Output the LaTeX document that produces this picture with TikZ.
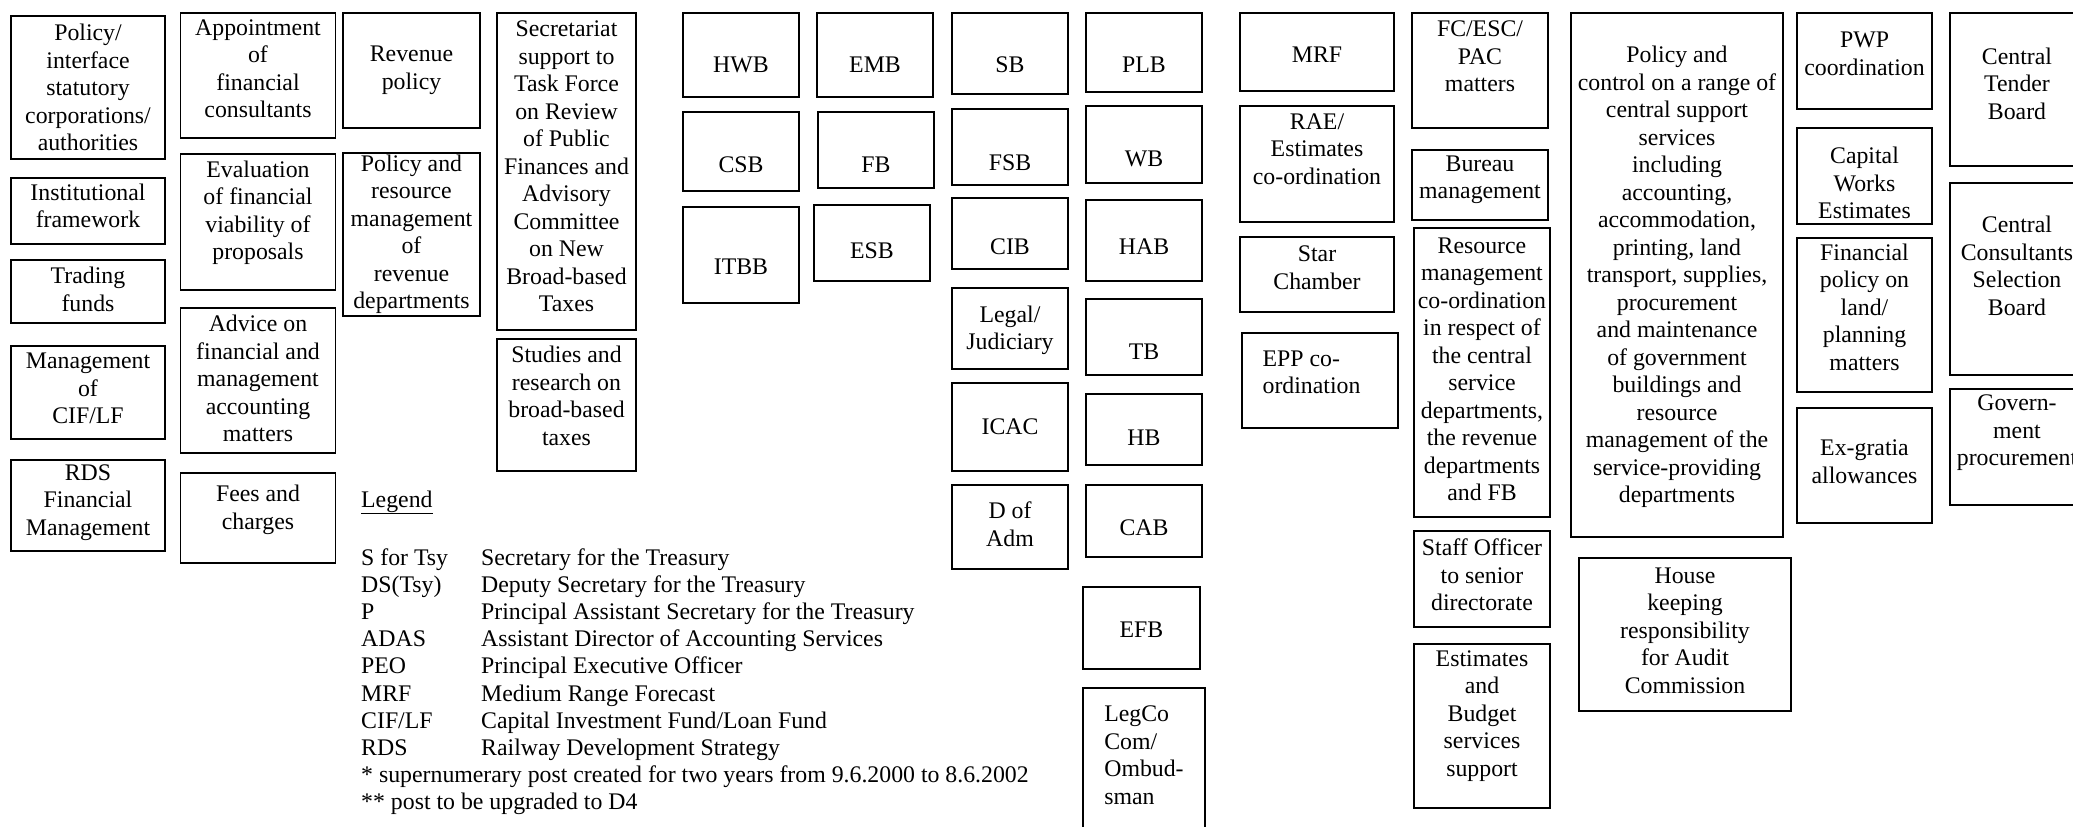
\documentclass[tikz,border=0pt]{standalone}
\usepackage{fontspec}
\setmainfont{LiberationSerif}[Extension=.ttf, UprightFont=*-Regular, BoldFont=*-Bold, ItalicFont=*-Italic, BoldItalicFont=*-BoldItalic]
\usepackage{tikz}
\usetikzlibrary{positioning}
\newcommand{\chartfont}{\rmfamily\fontsize{23.8}{27.5}\selectfont}
\newcommand{\legendfont}{\rmfamily\fontsize{23.8}{27.2}\selectfont}

\begin{document}
\begin{tikzpicture}[
    x=1pt, y=-1pt,
    every node/.style={font=\chartfont},
    box/.style={draw, line width=1.4pt, inner sep=0pt},
    every label/.style={align=center, inner sep=0pt}
  ]
    \fill[white] (0,0) rectangle (2073,827);
    \useasboundingbox (0,0) rectangle (2073,827);

    % first column
    \node[box, minimum width=154, minimum height=143, label={center:Policy/\\interface\\statutory\\corporations/\\authorities}] (polint) at (88,87.5) {};
    \node[box, minimum width=154, minimum height=66, label={[yshift=5]center:Institutional\\framework}] (instfw) at (88,211) {};
    \node[box, minimum width=154, minimum height=63, label={[yshift=2]center:Trading\\funds}] (trading) at (88,291.5) {};
    \node[box, minimum width=154, minimum height=93, label={[yshift=4]center:Management\\of\\CIF/LF}] (cif) at (88,392.5) {};
    \node[box, minimum width=154, minimum height=91, label={[yshift=3]center:RDS\\Financial\\Management}] (rds) at (88,505.5) {};

    \node[box, minimum width=155, minimum height=125, label={[yshift=7]center:Appointment\\of\\financial\\consultants}] (appoint) at (258,75.5) {};
    \node[box, minimum width=155, minimum height=136, label={[yshift=9]center:Evaluation\\of financial\\viability of\\proposals}] (evalfin) at (258,222) {};
    \node[box, minimum width=155, minimum height=145, label={[yshift=2]center:Advice on\\financial and\\management\\accounting\\matters}] (advice) at (258,380.5) {};
    \node[box, minimum width=155, minimum height=90, label={[yshift=8]center:Fees and\\charges}] (fees) at (258,518) {};

    \node[box, minimum width=137, minimum height=115, label={center:Revenue\\policy}] (revpol) at (411.5,70.5) {};
    \node[box, minimum width=137, minimum height=163, label={center:Policy and\\resource\\management\\of\\revenue\\departments}] (resmgmt) at (411.5,234.5) {};

    \node[box, minimum width=139, minimum height=317, label={[yshift=5]center:Secretariat\\support to\\Task Force\\on Review\\of Public\\Finances and\\Advisory\\Committee\\on New\\Broad-based\\Taxes}] (secr) at (566.5,171.5) {};
    \node[box, minimum width=139, minimum height=132, label={[yshift=9]center:Studies and\\research on\\broad-based\\taxes}] (studies) at (566.5,405) {};

    % bureaux
    \node[box, minimum width=116, minimum height=84, label={[yshift=-10]center:HWB}] (hwb) at (741,55) {};
    \node[box, minimum width=116, minimum height=79, label={[yshift=-13]center:CSB}] (csb) at (741,151.5) {};
    \node[box, minimum width=116, minimum height=96, label={[yshift=-12]center:ITBB}] (itbb) at (741,255) {};
    \node[box, minimum width=116, minimum height=84, label={[yshift=-10]center:EMB}] (emb) at (875,55) {};
    \node[box, minimum width=116, minimum height=76, label={[yshift=-15]center:FB}] (fb) at (876,150) {};
    \node[box, minimum width=116, minimum height=76, label={[yshift=-8]center:ESB}] (esb) at (872,243) {};

    \node[box, minimum width=116, minimum height=81, label={[yshift=-11]center:SB}] (sb) at (1010,53.5) {};
    \node[box, minimum width=116, minimum height=76, label={[yshift=-16]center:FSB}] (fsb) at (1010,147) {};
    \node[box, minimum width=116, minimum height=71, label={[yshift=-13]center:CIB}] (cib) at (1010,233.5) {};
    \node[box, minimum width=116, minimum height=81, label={[yshift=-2]center:Legal/\\Judiciary}] (legal) at (1010,328.5) {};
    \node[box, minimum width=116, minimum height=88, label={center:ICAC}] (icac) at (1010,427) {};
    \node[box, minimum width=116, minimum height=84, label={[yshift=3]center:D of\\Adm}] (dadm) at (1010,527) {};

    \node[box, minimum width=116, minimum height=79, label={[yshift=-12]center:PLB}] (plb) at (1144,52.5) {};
    \node[box, minimum width=116, minimum height=77, label={[yshift=-14]center:WB}] (wb) at (1144,144.5) {};
    \node[box, minimum width=116, minimum height=81, label={[yshift=-6]center:HAB}] (hab) at (1144,240.5) {};
    \node[box, minimum width=116, minimum height=76, label={[yshift=-15]center:TB}] (tb) at (1144,337) {};
    \node[box, minimum width=116, minimum height=71, label={[yshift=-8]center:HB}] (hb) at (1144,429.5) {};
    \node[box, minimum width=116, minimum height=72, label={[yshift=-7]center:CAB}] (cab) at (1144,521) {};
    \node[box, minimum width=117, minimum height=82, label={[yshift=-2]center:EFB}] (efb) at (1141.5,628) {};
    \node[box, minimum width=122, minimum height=152, label={[yshift=9, align=left]center:LegCo\\Com/\\Ombud-\\sman}] (legco) at (1144,764) {};

    % coordination
    \node[box, minimum width=154, minimum height=78, label={[yshift=-3]center:MRF}] (mrf) at (1317,52) {};
    \node[box, minimum width=154, minimum height=116, label={[yshift=15]center:RAE/\\Estimates\\co-ordination}] (rae) at (1317,164) {};
    \node[box, minimum width=154, minimum height=75, label={[yshift=7]center:Star\\Chamber}] (star) at (1317,274.5) {};
    \node[box, minimum width=156, minimum height=95, label={[yshift=8, xshift=-8.5, align=left]center:EPP co-\\ordination}] (epp) at (1320,380.5) {};

    \node[box, minimum width=136, minimum height=115, label={[yshift=14]center:FC/ESC/\\PAC\\matters}] (fcesc) at (1480,70.5) {};
    \node[box, minimum width=136, minimum height=70, label={[yshift=5]center:Bureau\\management}] (bureau) at (1480,185) {};
    \node[box, minimum width=136, minimum height=289, label={[yshift=3]center:Resource\\management\\co-ordination\\in respect of\\the central\\service\\departments,\\the revenue\\departments\\and FB}] (resco) at (1482,372.5) {};
    \node[box, minimum width=136, minimum height=96, label={[yshift=4]center:Staff Officer\\to senior\\directorate}] (staff) at (1482,579) {};
    \node[box, minimum width=136, minimum height=164, label={[yshift=10]center:Estimates\\and\\Budget\\services\\support}] (estim) at (1482,726) {};

    % central support services
    \node[box, minimum width=212, minimum height=524, label={[yshift=-2]center:Policy and\\control on a range of\\central support\\services\\including\\accounting,\\accommodation,\\printing, land\\transport, supplies,\\procurement\\and maintenance\\of government\\buildings and\\resource\\management of the\\service-providing\\departments}] (polctl) at (1677,275) {};
    \node[box, minimum width=212, minimum height=153, label={[yshift=4]center:House\\keeping\\responsibility\\for Audit\\Commission}] (house) at (1685,634.5) {};

    \node[box, minimum width=135, minimum height=96, label={[yshift=7]center:PWP\\coordination}] (pwp) at (1864.5,61) {};
    \node[box, minimum width=135, minimum height=96, label={[yshift=-7]center:Capital\\Works\\Estimates}] (capw) at (1864.5,176) {};
    \node[box, minimum width=135, minimum height=154, label={[yshift=8]center:Financial\\policy on\\land/\\planning\\matters}] (finpol) at (1864.5,315) {};
    \node[box, minimum width=135, minimum height=115, label={[yshift=4]center:Ex-gratia\\allowances}] (exgratia) at (1864.5,465.5) {};

    \node[box, minimum width=134, minimum height=153, label={[yshift=6]center:Central\\Tender\\Board}] (ctb) at (2017,89.5) {};
    \node[box, minimum width=134, minimum height=192, label={[yshift=13]center:Central\\Consultants\\Selection\\Board}] (ccsb) at (2017,279) {};
    \node[box, minimum width=134, minimum height=116, label={[yshift=14]center:Govern-\\ment\\procurement}] (govproc) at (2017,447) {};

    % legend
    \node[anchor=base west, inner sep=0pt] (legendhead) at (361,507) {\underline{Legend}};
    \node[anchor=base west, inner sep=0pt, font=\legendfont] (legend) at (361,565) {%
      \begin{tabular}[t]{@{}p{120pt}@{}l@{}}
        S for Tsy & Secretary for the Treasury\\
        DS(Tsy) & Deputy Secretary for the Treasury\\
        P & Principal Assistant Secretary for the Treasury\\
        ADAS & Assistant Director of Accounting Services\\
        PEO & Principal Executive Officer\\
        MRF & Medium Range Forecast\\
        CIF/LF & Capital Investment Fund/Loan Fund\\
        RDS & Railway Development Strategy\\
        \multicolumn{2}{@{}l@{}}{* supernumerary post created for two years from 9.6.2000 to 8.6.2002}\\
        \multicolumn{2}{@{}l@{}}{** post to be upgraded to D4}
      \end{tabular}};
  \end{tikzpicture}
\end{document}
